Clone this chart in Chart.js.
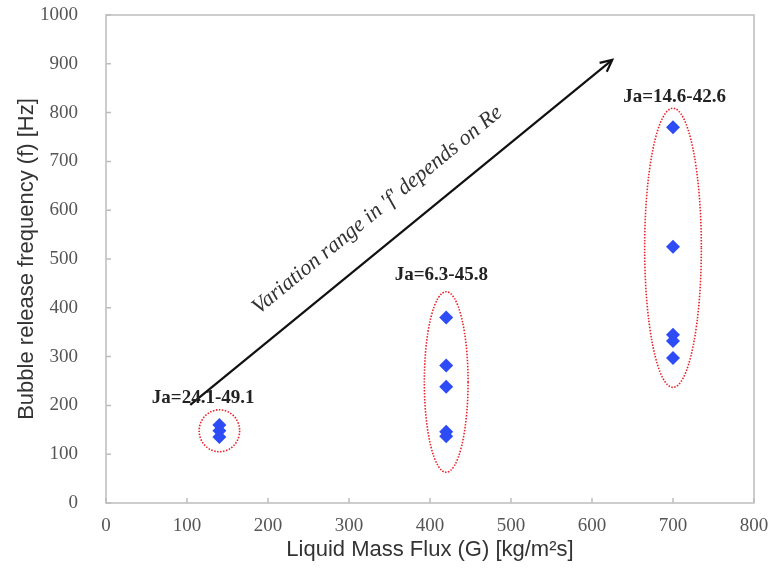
<!DOCTYPE html>
<html><head><meta charset="utf-8">
<script src="https://cdn.jsdelivr.net/npm/chart.js@4.4.1/dist/chart.umd.min.js"></script>
<style>html,body{margin:0;padding:0;background:#fff}#wrap{width:772px;height:575px}</style>
</head><body><div id="wrap"><canvas id="c" width="772" height="575"></canvas></div>
<script>
// Data
const massFlux140 = [140, 140, 140];
const freq140 = [160, 148, 135];
const massFlux420 = [420, 420, 420, 420, 420];
const freq420 = [380, 282, 238, 146, 137];
const massFlux700 = [700, 700, 700, 700, 700];
const freq700 = [770, 525, 345, 332, 297];
const xTicks = [0, 100, 200, 300, 400, 500, 600, 700, 800];
const yTicks = [0, 100, 200, 300, 400, 500, 600, 700, 800, 900, 1000];
// Group annotations (data units)
const groupLabels = ['Ja=24.1-49.1', 'Ja=6.3-45.8', 'Ja=14.6-42.6'];
const groupLabelX = [120, 414, 702];
const groupLabelY = [215, 467, 832];
const ellipseCx = [140, 420, 700];
const ellipseCy = [148, 248, 523];
const ellipseRx = [25, 27, 35];
const ellipseRy = [43, 185, 286];
const arrowFrom = [104, 201];
const arrowTo = [625, 908];
const arrowText = "Variation range in 'f' depends on Re";
const arrowTextAt = [335, 600];

const pts = [];
[[massFlux140, freq140], [massFlux420, freq420], [massFlux700, freq700]].forEach(([xs, ys]) => {
  xs.forEach((x, i) => pts.push({x: x, y: ys[i]}));
});

const overlay = {
  id: 'overlay',
  beforeDatasetsDraw(chart) {
    const {ctx, chartArea: a, scales: {x, y}} = chart;
    ctx.save();
    ctx.strokeStyle = '#bdbdbd';
    ctx.lineWidth = 1.5;
    ctx.strokeRect(a.left, a.top, a.right - a.left, a.bottom - a.top);
    ctx.beginPath();
    xTicks.forEach(v => { const px = x.getPixelForValue(v); ctx.moveTo(px, a.bottom); ctx.lineTo(px, a.bottom - 5); });
    yTicks.forEach(v => { const py = y.getPixelForValue(v); ctx.moveTo(a.left, py); ctx.lineTo(a.left + 5, py); });
    ctx.stroke();
    ctx.strokeStyle = '#e8222a';
    ctx.lineWidth = 1.6;
    ctx.setLineDash([1.5, 1.5]);
    ellipseCx.forEach((cx, i) => {
      const px = x.getPixelForValue(cx), py = y.getPixelForValue(ellipseCy[i]);
      const rx = Math.abs(x.getPixelForValue(cx + ellipseRx[i]) - px);
      const ry = Math.abs(y.getPixelForValue(ellipseCy[i] + ellipseRy[i]) - py);
      ctx.beginPath(); ctx.ellipse(px, py, rx, ry, 0, 0, Math.PI * 2); ctx.stroke();
    });
    ctx.setLineDash([]);
    const x1 = x.getPixelForValue(arrowFrom[0]), y1 = y.getPixelForValue(arrowFrom[1]);
    const x2 = x.getPixelForValue(arrowTo[0]), y2 = y.getPixelForValue(arrowTo[1]);
    const ang = Math.atan2(y2 - y1, x2 - x1);
    ctx.strokeStyle = '#111'; ctx.lineWidth = 2.2;
    ctx.beginPath(); ctx.moveTo(x1, y1); ctx.lineTo(x2, y2); ctx.stroke();
    ctx.beginPath();
    ctx.moveTo(x2 - 13 * Math.cos(ang - 0.45), y2 - 13 * Math.sin(ang - 0.45));
    ctx.lineTo(x2, y2);
    ctx.lineTo(x2 - 13 * Math.cos(ang + 0.45), y2 - 13 * Math.sin(ang + 0.45));
    ctx.stroke();
    ctx.save();
    ctx.translate(x.getPixelForValue(arrowTextAt[0]), y.getPixelForValue(arrowTextAt[1]));
    ctx.rotate(ang);
    ctx.fillStyle = '#333';
    ctx.font = 'italic 22px "Liberation Serif", "DejaVu Serif", serif';
    ctx.textAlign = 'center'; ctx.textBaseline = 'middle';
    ctx.fillText(arrowText, 0, 0);
    ctx.restore();
    ctx.fillStyle = '#222';
    ctx.font = 'bold 19px "Liberation Serif", serif';
    ctx.textAlign = 'center'; ctx.textBaseline = 'middle';
    groupLabels.forEach((t, i) => ctx.fillText(t, x.getPixelForValue(groupLabelX[i]), y.getPixelForValue(groupLabelY[i])));
    ctx.restore();
  }
};

const noPad = s => { s.paddingTop = 0; s.paddingBottom = 0; s.paddingLeft = 0; s.paddingRight = 0; };

new Chart(document.getElementById('c'), {
  type: 'scatter',
  data: { datasets: [{ data: pts, pointStyle: 'rectRot', pointRadius: 7, pointHoverRadius: 7,
    backgroundColor: '#2d4cf5', borderColor: '#2d4cf5', borderWidth: 0 }] },
  options: {
    responsive: false, animation: false,
    layout: { padding: { top: 15, right: 18, left: 0, bottom: 0 } },
    plugins: { legend: { display: false }, tooltip: { enabled: false } },
    scales: {
      x: {
        type: 'linear', min: 0, max: 800,
        afterBuildTicks: s => { s.ticks = xTicks.map(v => ({value: v})); },
        afterFit: s => { s.height = 72; noPad(s); },
        grid: { display: false }, border: { display: false },
        ticks: { color: '#555', padding: 4, callback: v => String(v), font: { family: '"Liberation Serif", serif', size: 19 } },
        title: { display: true, text: 'Liquid Mass Flux (G) [kg/m²s]', color: '#333', padding: { top: 2, bottom: 12 },
          font: { family: '"Liberation Sans", Arial, sans-serif', size: 22 } }
      },
      y: {
        type: 'linear', min: 0, max: 1000,
        afterBuildTicks: s => { s.ticks = yTicks.map(v => ({value: v})); },
        afterFit: s => { s.width = 106; noPad(s); },
        grid: { display: false }, border: { display: false },
        ticks: { color: '#555', padding: 20, callback: v => String(v), font: { family: '"Liberation Serif", serif', size: 19 } },
        title: { display: true, text: 'Bubble release frequency (f) [Hz]', color: '#333', padding: { top: 14, bottom: 0 },
          font: { family: '"Liberation Sans", Arial, sans-serif', size: 22 } }
      }
    }
  },
  plugins: [overlay]
});
</script></body></html>
